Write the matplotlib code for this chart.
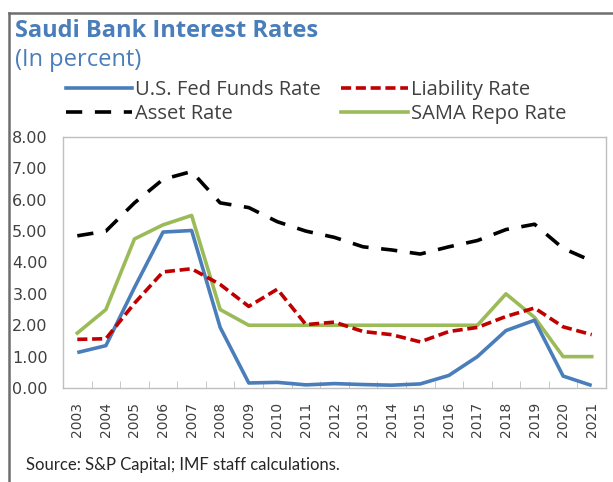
import matplotlib
matplotlib.use("Agg")
import matplotlib.pyplot as plt
from matplotlib.lines import Line2D

years = [str(y) for y in range(2003, 2022)]
fed_funds = [1.13, 1.35, 3.20, 4.97, 5.02, 1.93, 0.16, 0.18, 0.10, 0.14, 0.11, 0.09, 0.13, 0.40, 1.00, 1.83, 2.16, 0.38, 0.08]
liability = [1.55, 1.57, 2.70, 3.70, 3.80, 3.30, 2.60, 3.15, 2.02, 2.10, 1.80, 1.70, 1.47, 1.80, 1.93, 2.28, 2.55, 1.95, 1.70]
asset = [4.85, 5.00, 5.90, 6.65, 6.90, 5.90, 5.75, 5.30, 5.00, 4.80, 4.50, 4.40, 4.27, 4.50, 4.70, 5.05, 5.22, 4.45, 4.05]
sama_repo = [1.75, 2.50, 4.75, 5.20, 5.50, 2.50, 2.00, 2.00, 2.00, 2.00, 2.00, 2.00, 2.00, 2.00, 2.00, 3.00, 2.25, 1.00, 1.00]
yticks = [0, 1, 2, 3, 4, 5, 6, 7, 8]

plt.rcParams['font.family'] = ['Open Sans', 'DejaVu Sans']

W, H = 613, 482
fig = plt.figure(figsize=(W / 100, H / 100), dpi=100)
fig.patch.set_facecolor('white')

# outer frame lines (left and top)
fig.add_artist(Line2D([9 / W, 9 / W], [0, 1 - 13 / H], color='#6e6e6e', lw=1.8, transform=fig.transFigure))
fig.add_artist(Line2D([9 / W, 1], [1 - 13 / H, 1 - 13 / H], color='#6e6e6e', lw=1.8, transform=fig.transFigure))

ax = fig.add_axes([63 / W, 1 - 388 / H, (606 - 63) / W, (388 - 137) / H])
x = list(range(len(years)))

c_blue = '#4a7ebb'
c_red = '#c00000'
c_green = '#9bbb59'

ax.plot(x, fed_funds, color=c_blue, lw=2.6, solid_capstyle='butt', zorder=3)
ax.plot(x, liability, color=c_red, lw=2.6, dashes=(2.8, 1.3), zorder=3)
ax.plot(x, asset, color='black', lw=2.6, dashes=(4.5, 3.5), zorder=3)
ax.plot(x, sama_repo, color=c_green, lw=2.6, zorder=2)

ax.set_xlim(-0.5, len(years) - 0.5)
ax.set_ylim(0, 8)
ax.set_yticks(yticks)
ax.set_yticklabels([f"{v:.2f}" for v in yticks], fontsize=11.5, color='#404040', family='DejaVu Sans')
ax.tick_params(axis='y', length=0, pad=11)
ax.set_xticks(x)
ax.set_xticklabels(years, rotation=90, fontsize=10, color='#404040', family='DejaVu Sans')
ax.tick_params(axis='x', which='major', length=0, pad=10)
ax.set_xticks([i + 0.5 for i in range(len(years) - 1)], minor=True)
ax.tick_params(axis='x', which='minor', direction='in', length=5, color='#bfbfbf')
for s in ax.spines.values():
    s.set_color('#bfbfbf')
    s.set_linewidth(1)

fig.text(15 / W, 1 - 31 / H, "Saudi Bank Interest Rates", fontsize=17, fontweight='bold', color='#4a7ebb', va='center', ha='left')
fig.text(15 / W, 1 - 60 / H, "(In percent)", fontsize=17, color='#4a7ebb', va='center', ha='left')

h_fed = Line2D([], [], color=c_blue, lw=2.6)
h_liab = Line2D([], [], color=c_red, lw=2.6, dashes=(2.8, 1.3))
h_asset = Line2D([], [], color='black', lw=2.6, dashes=(4.5, 3.5))
h_sama = Line2D([], [], color=c_green, lw=2.6)
leg = fig.legend([h_fed, h_asset, h_liab, h_sama],
                 ["U.S. Fed Funds Rate", "Asset Rate", "Liability Rate", "SAMA Repo Rate"],
                 ncol=2, loc='upper left', bbox_to_anchor=(66 / W, 1 - 80 / H),
                 frameon=False, fontsize=14.5, handlelength=3.3, handletextpad=0.15,
                 columnspacing=1.0, labelspacing=0.22, borderaxespad=0, borderpad=0)
for t in leg.get_texts():
    t.set_color('#404040')

fig.text(26 / W, 1 - 465 / H, "Source: S&P Capital; IMF staff calculations.", fontsize=12, color='#262626', va='center', ha='left', family='Lato')

fig.savefig("out.png", dpi=100, facecolor='white')
